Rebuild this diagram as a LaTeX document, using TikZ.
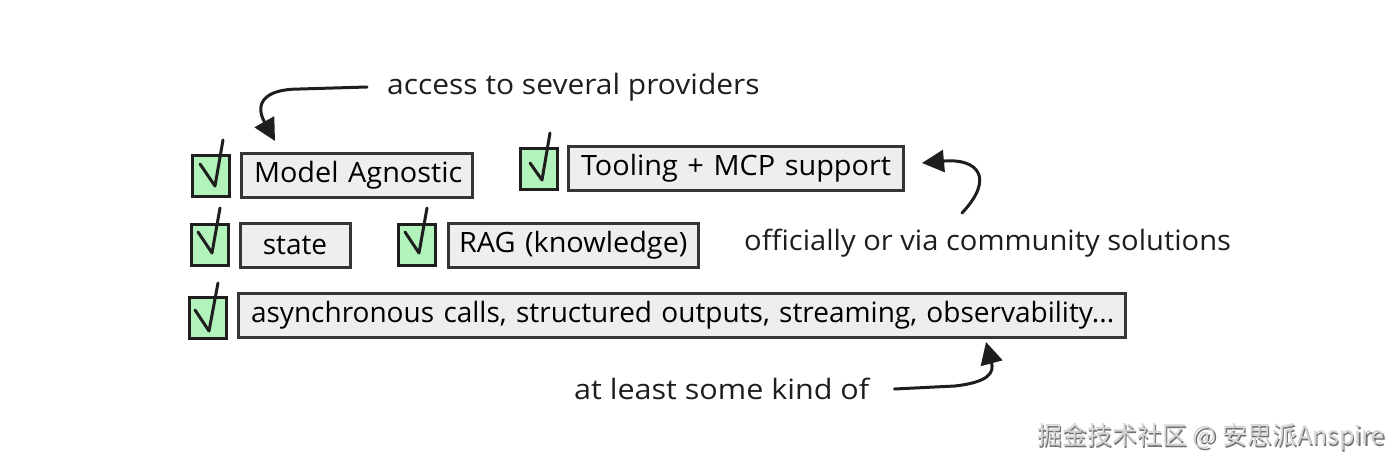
\documentclass[tikz,border=0pt]{standalone}
\usepackage{fontspec}
\setmainfont{Open Sans}
\newfontfamily\cjk{Noto Sans CJK SC}
\usetikzlibrary{arrows.meta}
\definecolor{chkgreen}{HTML}{B2F2BB}
\definecolor{boxgray}{HTML}{ECEEF0}
\definecolor{ink}{HTML}{1E1E1E}
\definecolor{wm}{HTML}{B8B8B8}
\tikzset{
  chkbox/.style={draw=ink, line width=3pt, fill=chkgreen, minimum width=37pt, minimum height=41pt, inner sep=0pt},
  itembox/.style={draw=ink!90, line width=3pt, fill=boxgray, minimum height=44pt, inner ysep=0pt, inner xsep=13pt, align=left, font=\fontsize{28}{32}\selectfont},
  tick/.style={draw=ink, line width=3pt, line cap=round, line join=round},
  lbl/.style={font=\fontsize{28}{32}\selectfont, text=ink, inner sep=0pt},
  arr/.style={draw=ink, line width=3pt, line cap=round, -{Triangle[length=22pt,width=22pt]}},
}
\begin{document}
\begin{tikzpicture}[x=1pt,y=-1pt]
\useasboundingbox[fill=white] (0,0) rectangle (1400,471);
% row 1
\node[chkbox] (c1) at (211,176) {};
\node[itembox, text width=205pt] (b1) at (356.5,175) {\scalebox{1.03}[1]{Model Agnostic}};
\node[chkbox] (c2) at (539,169) {};
\node[itembox, text width=309pt] (b2) at (735.5,168.5) {\scalebox{1.03}[1]{Tooling + MCP support}};
% row 2
\node[chkbox] (c3) at (210,245) {};
\node[itembox, text width=84pt, align=center] (b3) at (295,245) {state};
\node[chkbox] (c4) at (417,245) {};
\node[itembox, text width=228pt, inner xsep=11pt] (b4) at (573,245) {\scalebox{1.03}[1]{RAG (knowledge)}};
% row 3
\node[chkbox] (c5) at (208,318) {};
\node[itembox, text width=861pt] (b5) at (681.5,315.5) {\mbox{asynchronous calls, structured outputs, streaming, observability...}};
% ticks
\draw[tick] ([shift={(-11,-12)}]c1.center) -- ([shift={(4,10)}]c1.center) -- ([shift={(12,-36)}]c1.center);
\draw[tick] ([shift={(-9,-6)}]c2.center) -- ([shift={(3,11)}]c2.center) -- ([shift={(11,-36)}]c2.center);
\draw[tick] ([shift={(-12,-13)}]c3.center) -- ([shift={(2,8)}]c3.center) -- ([shift={(10,-37)}]c3.center);
\draw[tick] ([shift={(-12,-13)}]c4.center) -- ([shift={(2,8)}]c4.center) -- ([shift={(10,-37)}]c4.center);
\draw[tick] ([shift={(-13,-8)}]c5.center) -- ([shift={(1,13)}]c5.center) -- ([shift={(10,-35)}]c5.center);
% labels
\node[lbl, anchor=west] (acc) at (387,87) {\scalebox{1.07}[1]{access to several providers}};
\node[lbl, anchor=west] (off) at (744,243) {\scalebox{1.04}[1]{officially or via community solutions}};
\node[lbl, anchor=west] (atl) at (574,389) {\scalebox{1.09}[1]{at least some kind of}};
% arrows
\coordinate (tA) at (275,141);
\coordinate (sB) at (962,213);
\coordinate (tB) at (922,163);
\coordinate (tC) at (986,342);
\draw[arr] ([xshift=-20pt]acc.west) -- (300,89) .. controls (262,89) and (255,105) .. (tA);
\draw[arr] (sB) .. controls (995,178) and (978,158) .. (tB);
\draw[arr] ([xshift=25pt]atl.east) -- (955,386) .. controls (990,382) and (994,372) .. (tC);
% watermark
\node[font=\cjk\fontsize{25}{30}\selectfont, text=black!55, anchor=east, inner sep=0pt] (wms) at (1386.5,438.5) {掘金技术社区 @ 安思派Anspire};
\node[font=\cjk\fontsize{25}{30}\selectfont, text=wm!60, anchor=east, inner sep=0pt] (wmt) at (1385,437) {掘金技术社区 @ 安思派Anspire};
\end{tikzpicture}
\end{document}
